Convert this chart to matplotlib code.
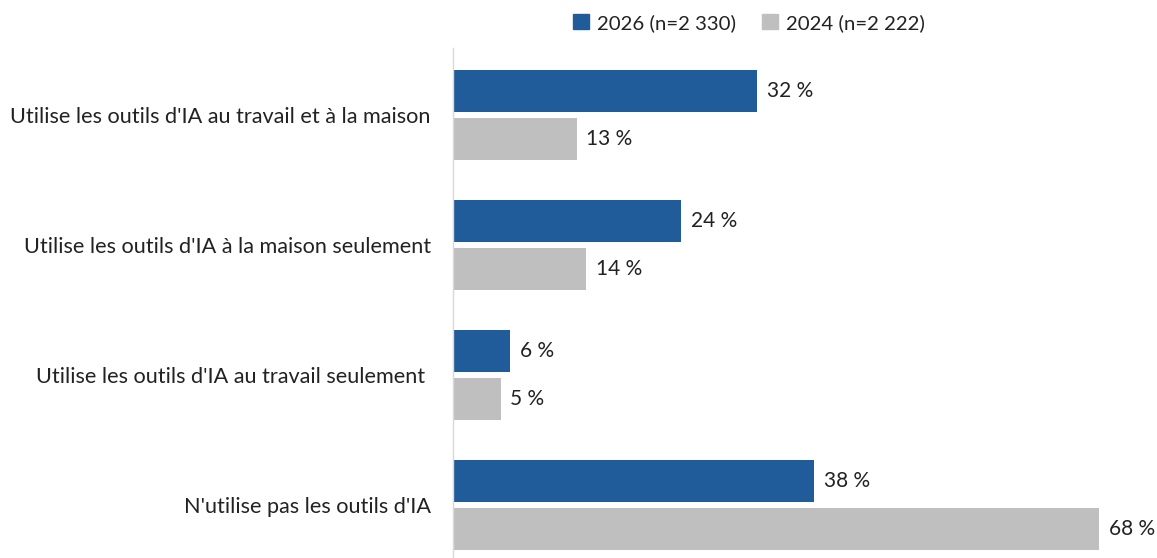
import matplotlib
matplotlib.use("Agg")
import matplotlib.pyplot as plt
from matplotlib.patches import Patch

plt.rcParams['font.family'] = ['Lato', 'DejaVu Sans']

categories = [
    "Utilise les outils d'IA au travail et à la maison",
    "Utilise les outils d'IA à la maison seulement",
    "Utilise les outils d'IA au travail seulement ",
    "N'utilise pas les outils d'IA",
]
values_2026 = [32, 24, 6, 38]
values_2024 = [13, 14, 5, 68]
series_labels = ["2026 (n=2 330)", "2024 (n=2 222)"]

blue = "#1F5C99"
gray = "#BFBFBF"

W, H = 1157, 558
fig = plt.figure(figsize=(W / 100, H / 100), dpi=100)
ax = fig.add_axes([453 / W, 0, 1 - 453 / W, 510 / H])

bar_h = 0.323
offset = 0.1865
ypos = list(range(len(categories)))

b1 = ax.barh([y - offset for y in ypos], values_2026, height=bar_h, color=blue)
b2 = ax.barh([y + offset for y in ypos], values_2024, height=bar_h, color=gray)

for bars, vals in ((b1, values_2026), (b2, values_2024)):
    for rect, v in zip(bars, vals):
        ax.annotate(f"{v} %", (v, rect.get_y() + rect.get_height() / 2),
                    xytext=(7, 0), textcoords="offset points",
                    va="center", ha="left", fontsize=15, color="#222222")

ax.set_xlim(0, (W - 453) / 9.5)
ax.set_ylim(3.408, -0.515)
ax.set_yticks(ypos)
ax.set_yticklabels(categories, fontsize=15.6, color="#222222")
ax.tick_params(axis="y", length=0, pad=16)
ax.set_xticks([])
for side in ("top", "right", "bottom"):
    ax.spines[side].set_visible(False)
ax.spines["left"].set_color("#D9D9D9")
ax.spines["left"].set_linewidth(1)

handles = [Patch(color=blue), Patch(color=gray)]
fig.legend(handles, series_labels, loc="center", bbox_to_anchor=(749 / W, 1 - 23 / H),
           ncol=2, frameon=False, fontsize=14.7, handlelength=0.75, handleheight=0.75,
           handletextpad=0.4, columnspacing=1.3, labelcolor="#222222")

fig.savefig("out.png", dpi=100)
